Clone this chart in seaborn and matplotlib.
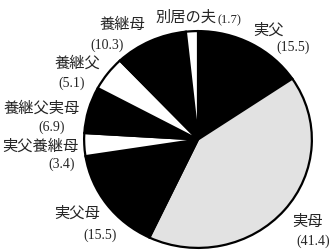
import matplotlib
matplotlib.use("Agg")
import matplotlib.pyplot as plt
import seaborn as sns

sns.set_theme(style="white")
plt.rcParams['font.family'] = ['Liberation Serif', 'Noto Sans CJK JP', 'DejaVu Sans']

# data (clockwise from top)
categories = ["実父", "実母", "実父母", "実父養継母", "養継父実母", "養継父", "養継母", "別居の夫"]
values = [15.5, 41.4, 15.5, 3.4, 6.9, 5.1, 10.3, 1.7]
value_labels = ["(15.5)", "(41.4)", "(15.5)", "(3.4)", "(6.9)", "(5.1)", "(10.3)", "(1.7)"]

# styles
fills = ["black", "#e2e2e2", "black", "white", "black", "white", "black", "white"]

W, H = 332, 252
fig = plt.figure(figsize=(W / 100, H / 100), dpi=100)
ax = fig.add_axes([83 / W, (H - 249) / H, 230 / W, 219 / H])
wedges, _ = ax.pie(values, colors=fills, startangle=90, counterclock=False,
                   wedgeprops=dict(edgecolor="black", linewidth=1.6))
ax.set_aspect('auto')
ax.set_xlim(-1.01, 1.01)
ax.set_ylim(-1.01, 1.01)
ax.axis('off')

# label layout (pixel centers): name position, value position
layout = {
    "実父": ((268, 31), (293, 47)),
    "実母": ((307, 222), (313, 241)),
    "実父母": ((77, 214), (100, 235)),
    "実父養継母": ((40, 146), (62, 164)),
    "養継父実母": ((42, 108), (52, 127)),
    "養継父": ((77, 63), (72, 83)),
    "養継母": ((122, 25), (107, 45)),
}
for cat, vl in zip(categories, value_labels):
    if cat == "別居の夫":
        fig.text(186 / W, 1 - 18 / H, cat, ha="center", va="center", fontsize=11)
        fig.text(229 / W, 1 - 20 / H, vl, ha="center", va="center", fontsize=9)
        continue
    (nx, ny), (vx, vy) = layout[cat]
    fig.text(nx / W, 1 - ny / H, cat, ha="center", va="center", fontsize=11)
    fig.text(vx / W, 1 - vy / H, vl, ha="center", va="center", fontsize=10)

fig.savefig("out.png", dpi=100, facecolor="white")
